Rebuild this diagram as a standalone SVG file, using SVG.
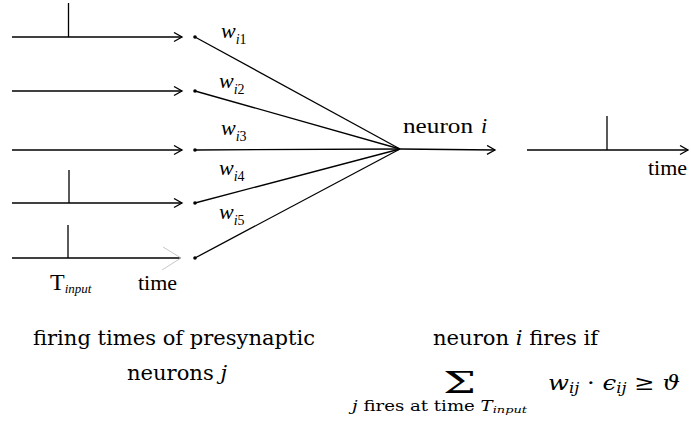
<svg xmlns="http://www.w3.org/2000/svg" width="691" height="421" viewBox="0 0 691 421">
<style>
.ln{stroke:#000;stroke-width:1.3;fill:none}
.ah{stroke:#000;stroke-width:1.3;fill:none}
.dot{fill:#000}
.tm{font-size:22px}
.it{font-style:italic}
.cm{font-size:21px}
</style>
<defs>
<marker id="arr" markerWidth="12" markerHeight="12" refX="9" refY="5" orient="auto" markerUnits="userSpaceOnUse">
<path d="M1,0.5 L9,5 L1,9.5" class="ah"/>
</marker>
</defs>
<g id="inputs" font-family="Liberation Serif, DejaVu Serif, serif" fill="#000">
<line class="ln" x1="12" y1="37" x2="182" y2="37" marker-end="url(#arr)"/>
<line class="ln" x1="68.5" y1="3" x2="68.5" y2="37"/>
<line class="ln" x1="12" y1="91" x2="182" y2="91" marker-end="url(#arr)"/>
<line class="ln" x1="12" y1="150" x2="182" y2="150" marker-end="url(#arr)"/>
<line class="ln" x1="12" y1="203" x2="182" y2="203" marker-end="url(#arr)"/>
<line class="ln" x1="69" y1="170" x2="69" y2="203"/>
<line class="ln" x1="12" y1="258" x2="181" y2="258"/>
<path d="M163,247 L181,258 L162,270" stroke="#c8c8c8" stroke-width="1" fill="none"/>
<line class="ln" x1="68" y1="225" x2="68" y2="258"/>
<text x="50" y="290" font-size="24">T<tspan class="it" font-size="13" dy="3">input</tspan></text>
<text class="tm" x="138" y="290">time</text>
</g>
<g id="synapses">
<circle class="dot" cx="195" cy="37" r="1.8"/>
<circle class="dot" cx="195" cy="91" r="1.8"/>
<circle class="dot" cx="195" cy="150" r="1.8"/>
<circle class="dot" cx="195" cy="203" r="1.8"/>
<circle class="dot" cx="195" cy="258" r="1.8"/>
</g>
<g id="connectors">
<line class="ln" x1="195" y1="37" x2="400" y2="149"/>
<line class="ln" x1="195" y1="91" x2="400" y2="149"/>
<line class="ln" x1="195" y1="150" x2="400" y2="149"/>
<line class="ln" x1="195" y1="203" x2="400" y2="149"/>
<line class="ln" x1="195" y1="258" x2="400" y2="149"/>
<line class="ln" x1="400" y1="149" x2="495" y2="150" marker-end="url(#arr)"/>
</g>
<g id="weights" font-family="Liberation Serif, DejaVu Serif, serif" fill="#000">
<text class="tm" x="221" y="38"><tspan class="it">w</tspan><tspan font-size="14" dy="6"><tspan class="it">i</tspan>1</tspan></text>
<text class="tm" x="219" y="88"><tspan class="it">w</tspan><tspan font-size="14" dy="6"><tspan class="it">i</tspan>2</tspan></text>
<text class="tm" x="221" y="135"><tspan class="it">w</tspan><tspan font-size="14" dy="6"><tspan class="it">i</tspan>3</tspan></text>
<text class="tm" x="219" y="175"><tspan class="it">w</tspan><tspan font-size="14" dy="6"><tspan class="it">i</tspan>4</tspan></text>
<text class="tm" x="219" y="219"><tspan class="it">w</tspan><tspan font-size="14" dy="6"><tspan class="it">i</tspan>5</tspan></text>
</g>
<g id="neuron" font-family="Liberation Serif, DejaVu Serif, serif" fill="#000">
<text class="tm" x="403" y="133" textLength="70" lengthAdjust="spacingAndGlyphs">neuron</text>
<text class="tm it" x="481" y="133">i</text>
</g>
<g id="output" font-family="Liberation Serif, DejaVu Serif, serif" fill="#000">
<line class="ln" x1="527" y1="150" x2="688" y2="150" marker-end="url(#arr)"/>
<line class="ln" x1="607" y1="116" x2="607" y2="150"/>
<text class="tm" x="648" y="175">time</text>
</g>
<g id="captions" font-family="DejaVu Serif, Liberation Serif, serif" fill="#000">
<text class="cm" x="33" y="345" textLength="282" lengthAdjust="spacingAndGlyphs">firing times of presynaptic</text>
<text class="cm" x="127" y="380" textLength="100" lengthAdjust="spacingAndGlyphs">neurons <tspan class="it">j</tspan></text>
<text class="cm" x="433" y="345" textLength="165" lengthAdjust="spacingAndGlyphs">neuron <tspan class="it">i</tspan> fires if</text>
<text x="443" y="393" font-size="30" textLength="33" lengthAdjust="spacingAndGlyphs">Σ</text>
<text x="352" y="411" font-size="14" textLength="175" lengthAdjust="spacingAndGlyphs"><tspan class="it">j</tspan> fires at time <tspan class="it">T</tspan><tspan class="it" font-size="10" dy="2">input</tspan></text>
<text class="cm" x="548" y="390" textLength="132" lengthAdjust="spacingAndGlyphs"><tspan class="it">w</tspan><tspan class="it" font-size="14" dy="3">ij</tspan><tspan dy="-3"> · </tspan><tspan class="it">ϵ</tspan><tspan class="it" font-size="14" dy="3">ij</tspan><tspan dy="-3"> ≥ </tspan><tspan class="it">ϑ</tspan></text>
</g>
</svg>
